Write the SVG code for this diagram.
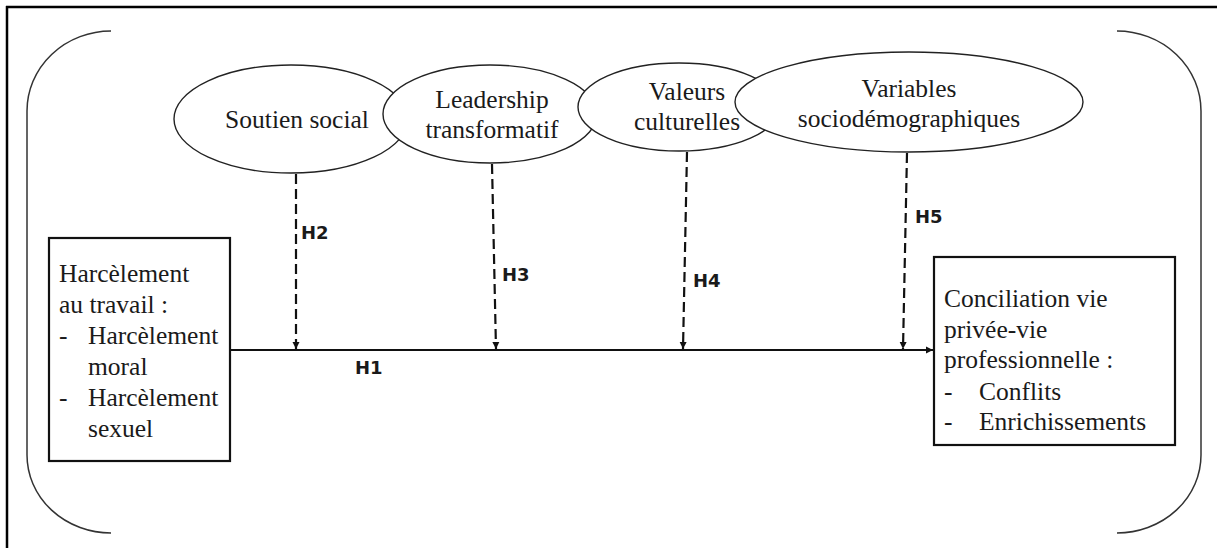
<svg xmlns="http://www.w3.org/2000/svg" width="1217" height="548" viewBox="0 0 1217 548">
<style>
.t{font-family:"Liberation Serif","Times New Roman",serif;font-size:25.5px;fill:#1a1a1a}
.h{font-family:"DejaVu Sans",Verdana,sans-serif;font-weight:bold;font-size:18px;fill:#1a1a1a}
.ell{fill:#fff;stroke:#222;stroke-width:1.4}
.box{fill:#fff;stroke:#111;stroke-width:2.2}
.br{fill:none;stroke:#333;stroke-width:1.5}
.dash{fill:none;stroke:#111;stroke-width:2.2;stroke-dasharray:10 5}
</style>
<defs>
<marker id="ah" markerWidth="8" markerHeight="8" refX="7" refY="4" orient="auto" markerUnits="userSpaceOnUse">
<path d="M0,0.5 L7,4 L0,7.5 Z" fill="#111"/>
</marker>
</defs>
<rect width="1217" height="548" fill="#fff"/>
<g id="frame">
<line x1="6" y1="7" x2="1217" y2="7" stroke="#000" stroke-width="2.5"/>
<line x1="7" y1="6" x2="7" y2="548" stroke="#000" stroke-width="2.5"/>
<path class="br" d="M111,31 A84,80 0 0 0 27,111 L27,455 A84,78 0 0 0 111,533"/>
<path class="br" d="M1117,31 A84,80 0 0 1 1201,111 L1201,455 A84,78 0 0 1 1117,533"/>
</g>
<g id="soutien">
<ellipse class="ell" cx="291" cy="119" rx="117" ry="54"/>
<text class="t" x="297" y="128" text-anchor="middle">Soutien social</text>
</g>
<g id="leadership">
<ellipse class="ell" cx="490" cy="114" rx="107" ry="49"/>
<text class="t" x="492" y="108" text-anchor="middle">Leadership</text>
<text class="t" x="492" y="138" text-anchor="middle">transformatif</text>
</g>
<g id="valeurs">
<ellipse class="ell" cx="679" cy="107" rx="101" ry="44"/>
<text class="t" x="687" y="100" text-anchor="middle">Valeurs</text>
<text class="t" x="687" y="130" text-anchor="middle">culturelles</text>
</g>
<g id="variables">
<ellipse class="ell" cx="909" cy="102" rx="174" ry="50"/>
<text class="t" x="909" y="97" text-anchor="middle">Variables</text>
<text class="t" x="909" y="127" text-anchor="middle">sociodémographiques</text>
</g>
<g id="harcelement">
<rect class="box" x="49" y="238" width="181" height="223"/>
<text class="t" x="59" y="282">Harcèlement</text>
<text class="t" x="59" y="313">au travail :</text>
<text class="t" x="59" y="344">-</text>
<text class="t" x="88" y="344">Harcèlement</text>
<text class="t" x="88" y="375">moral</text>
<text class="t" x="59" y="406">-</text>
<text class="t" x="88" y="406">Harcèlement</text>
<text class="t" x="88" y="437">sexuel</text>
</g>
<g id="conciliation">
<rect class="box" x="934" y="257" width="241" height="188"/>
<text class="t" x="944" y="307">Conciliation vie</text>
<text class="t" x="944" y="338">privée-vie</text>
<text class="t" x="944" y="368">professionnelle :</text>
<text class="t" x="944" y="400">-</text>
<text class="t" x="979" y="400">Conflits</text>
<text class="t" x="944" y="430">-</text>
<text class="t" x="979" y="430">Enrichissements</text>
</g>
<g id="connectors">
<line x1="230" y1="350" x2="933" y2="350" stroke="#111" stroke-width="2.2" marker-end="url(#ah)"/>
<line class="dash" x1="296" y1="174" x2="296" y2="349" marker-end="url(#ah)"/>
<line class="dash" x1="492" y1="164" x2="496" y2="349" marker-end="url(#ah)"/>
<line class="dash" x1="687" y1="152" x2="683" y2="349" marker-end="url(#ah)"/>
<line class="dash" x1="907" y1="153" x2="903" y2="349" marker-end="url(#ah)"/>
<text class="h" x="301" y="239">H2</text>
<text class="h" x="502" y="281">H3</text>
<text class="h" x="693" y="287">H4</text>
<text class="h" x="915" y="223">H5</text>
<text class="h" x="355" y="374">H1</text>
</g>
</svg>
